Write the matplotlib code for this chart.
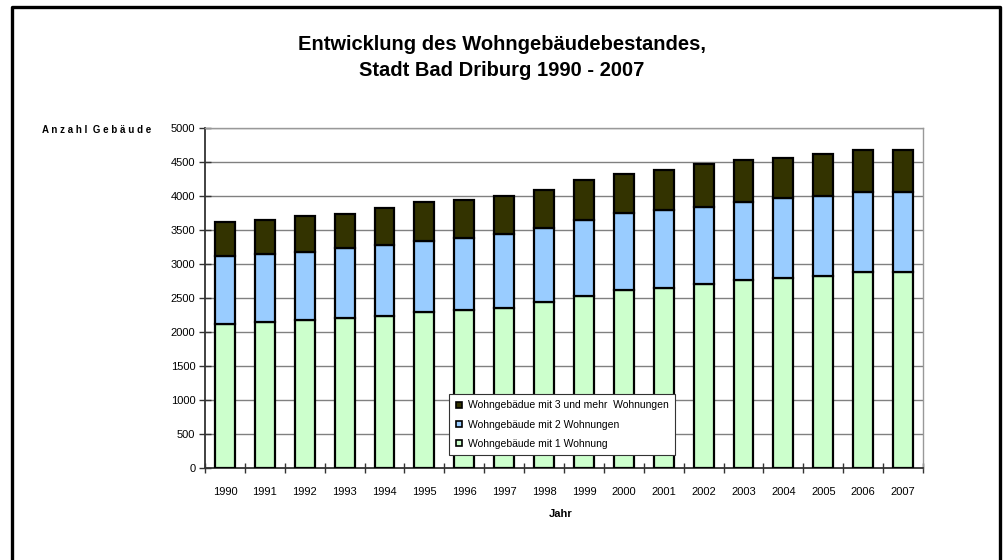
import matplotlib
matplotlib.use("Agg")
import matplotlib.pyplot as plt
from matplotlib.lines import Line2D
import numpy as np

plt.rcParams["font.family"] = ["Liberation Sans", "DejaVu Sans"]

# Jahre und Bestand
years = [str(y) for y in range(1990, 2008)]
ein_wohnung = [2120, 2150, 2180, 2200, 2228, 2290, 2316, 2350, 2440, 2522,
               2615, 2640, 2703, 2767, 2796, 2820, 2878, 2882]
# obere Kante "2 Wohnungen" (kumuliert)
bis_zwei = [3110, 3139, 3173, 3227, 3281, 3340, 3374, 3433, 3521, 3643,
            3751, 3785, 3834, 3907, 3962, 3991, 4054, 4058]
# Gesamtbestand
gesamt = [3613, 3649, 3702, 3731, 3819, 3907, 3942, 3991, 4084, 4231,
          4324, 4373, 4466, 4524, 4553, 4618, 4671, 4675]

zwei_wohnungen = [b - a for a, b in zip(ein_wohnung, bis_zwei)]
drei_und_mehr = [c - b for b, c in zip(bis_zwei, gesamt)]

labels = ["Wohngebäude mit 1 Wohnung",
          "Wohngebäude mit 2 Wohnungen",
          "Wohngebädue mit 3 und mehr  Wohnungen"]
colors = ["#CCFFCC", "#99CCFF", "#333300"]


def main():
    fig = plt.figure(figsize=(10.05, 5.6), dpi=100)
    ax = fig.add_axes([205 / 1005, 92 / 560, 718 / 1005, 340.5 / 560])

    x = np.arange(len(years))
    bottom = np.zeros(len(years))
    for vals, col in zip([ein_wohnung, zwei_wohnungen, drei_und_mehr], colors):
        ax.bar(x, vals, bottom=bottom, width=0.5, color=col,
               edgecolor="black", linewidth=1.6, zorder=3)
        bottom += np.array(vals)

    ax.set_xlim(-0.5, len(years) - 0.5)
    ax.set_ylim(0, 5000)
    ax.set_yticks(range(0, 5001, 500))
    ax.set_yticklabels([str(v) for v in range(0, 5001, 500)], fontsize=8)
    ax.set_xticks(x)
    ax.set_xticklabels(years, fontsize=8)
    ax.set_xticks(np.arange(-0.5, len(years), 1.0), minor=True)
    ax.tick_params(axis="x", which="major", length=0, pad=14)
    ax.tick_params(axis="x", which="minor", direction="inout", length=7,
                   width=1, color="#333333")
    ax.tick_params(axis="y", direction="inout", length=8, width=1,
                   color="#333333", pad=3)

    ax.yaxis.grid(True, color="#808080", linewidth=1.0, zorder=0)
    for s in ["top", "right"]:
        ax.spines[s].set_color("#999999")
        ax.spines[s].set_linewidth(1.0)
    ax.spines["left"].set_color("#333333")
    ax.spines["left"].set_linewidth(1.3)
    ax.spines["bottom"].set_color("#333333")
    ax.spines["bottom"].set_linewidth(1.3)

    handles = [Line2D([], [], marker="s", linestyle="none", markersize=5,
                      markerfacecolor=c, markeredgecolor="black",
                      markeredgewidth=1.2) for c in colors]
    leg = ax.legend(handles[::-1], labels[::-1], loc="upper left",
                    bbox_to_anchor=(449 / 1005, 1 - 394 / 560),
                    bbox_transform=fig.transFigure, fontsize=7.5,
                    frameon=True, fancybox=False, framealpha=1,
                    handlelength=0.8, handletextpad=0.4, labelspacing=0.9,
                    borderpad=0.6, borderaxespad=0)
    leg.get_frame().set_edgecolor("#333333")
    leg.get_frame().set_linewidth(0.8)
    leg.set_zorder(5)

    fig.text(502 / 1005, 1 - 45 / 560, "Entwicklung des Wohngebäudebestandes,",
             ha="center", va="center", fontsize=14.5, fontweight="bold")
    fig.text(502 / 1005, 1 - 71 / 560, "Stadt Bad Driburg 1990 - 2007",
             ha="center", va="center", fontsize=14.5, fontweight="bold")
    fig.text(97 / 1005, 1 - 130 / 560, "A n z a h l  G e b ä u d e",
             ha="center", va="center", fontsize=7, fontweight="bold")
    fig.text(561 / 1005, 1 - 514 / 560, "Jahr", ha="center", va="center",
             fontsize=8, fontweight="bold")

    # Rahmen um die Grafik (unten offen)
    fx = [12 / 1005, 12 / 1005, 1000 / 1005, 1000 / 1005]
    fy = [-0.01, 1 - 7 / 560, 1 - 7 / 560, -0.01]
    fig.add_artist(Line2D(fx, fy, transform=fig.transFigure, color="black",
                          linewidth=2.4))

    fig.savefig("out.png", dpi=100)


if __name__ == "__main__":
    main()
